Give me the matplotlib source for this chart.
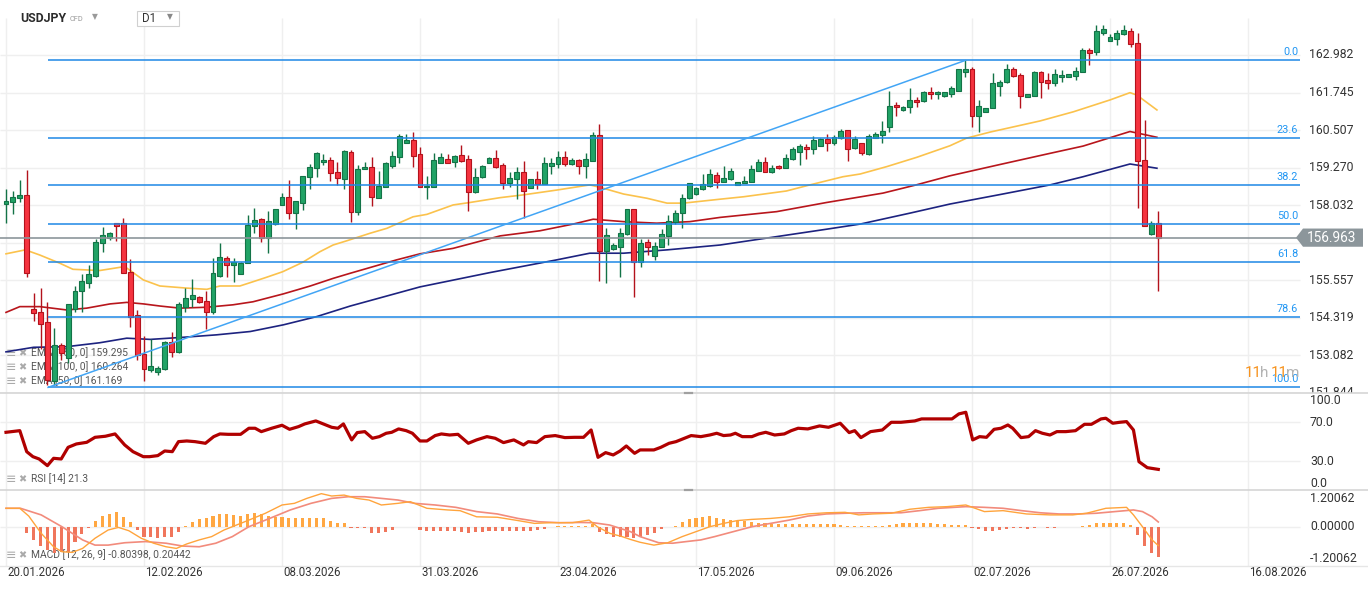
import matplotlib.pyplot as plt
from matplotlib.transforms import blended_transform_factory as blend
from matplotlib.patches import Polygon, Rectangle
from matplotlib.lines import Line2D

plt.rcParams['font.family'] = ['Roboto', 'DejaVu Sans']

# ---- daily candles ----
opens = [158.06, 158.13, 158.26, 158.37, 154.60, 154.51, 154.19, 152.24, 153.43, 152.99,
         154.60, 155.22, 155.48, 155.70, 156.78, 156.96, 157.44, 157.44, 155.82, 154.42,
         153.13, 152.60, 152.53, 152.62, 153.52, 153.21, 154.69, 154.93, 155.00, 154.89,
         154.50, 155.71, 156.28, 156.05, 155.77, 156.12, 157.33, 157.57, 156.96, 157.41,
         158.04, 158.29, 157.77, 158.12, 158.95, 159.25, 159.45, 159.52, 159.12, 158.90,
         159.78, 157.82, 159.22, 159.28, 158.28, 158.64, 159.33, 159.61, 160.09, 160.18,
         159.72, 158.62, 158.64, 159.43, 159.55, 159.47, 159.69, 159.55, 158.48, 158.95,
         159.43, 159.58, 159.36, 158.75, 158.89, 159.12, 158.59, 158.89, 158.72, 159.33,
         159.38, 159.61, 159.38, 159.52, 159.33, 159.50, 160.35, 156.53, 156.58, 156.67,
         157.07, 157.90, 156.17, 156.83, 156.37, 156.67, 157.03, 157.49, 157.79, 158.28,
         158.39, 158.56, 158.67, 159.03, 158.80, 158.88, 158.70, 158.75, 158.81, 159.17,
         159.45, 159.12, 159.33, 159.27, 159.55, 159.80, 159.96, 159.87, 159.99, 160.21,
         160.07, 160.24, 160.51, 159.91, 160.09, 159.72, 160.24, 160.35, 160.60, 161.34,
         161.17, 161.26, 161.50, 161.47, 161.75, 161.69, 161.63, 161.70, 161.80, 162.43,
         162.52, 160.98, 161.11, 161.23, 161.97, 162.08, 162.52, 162.32, 161.59, 161.64,
         162.41, 162.16, 162.07, 162.24, 162.27, 162.30, 162.41, 163.15, 163.07, 163.70,
         163.45, 163.51, 163.66, 163.77, 163.39, 159.52, 157.07, 157.44]
highs = [158.56, 158.50, 158.86, 159.19, 155.15, 155.29, 154.84, 153.98, 153.48, 154.78,
         155.37, 155.77, 156.06, 156.91, 157.30, 157.15, 157.46, 157.62, 156.25, 154.58,
         153.72, 153.61, 152.72, 153.57, 153.87, 154.85, 155.29, 155.59, 155.05, 155.22,
         156.28, 156.78, 156.36, 156.28, 156.15, 157.71, 157.93, 157.60, 157.84, 157.90,
         158.45, 158.86, 158.17, 158.99, 159.39, 159.80, 159.72, 159.61, 159.45, 159.85,
         159.85, 159.36, 159.47, 159.61, 159.16, 159.45, 159.82, 160.38, 160.38, 160.44,
         159.96, 158.99, 159.74, 159.76, 159.72, 159.69, 160.02, 159.69, 159.25, 159.36,
         159.63, 159.85, 159.41, 159.14, 159.30, 159.49, 158.89, 159.16, 159.63, 159.58,
         159.82, 159.82, 159.58, 159.55, 159.76, 160.46, 160.71, 157.29, 156.78, 157.29,
         157.90, 157.90, 156.91, 156.91, 156.81, 157.24, 157.71, 157.86, 158.40, 158.75,
         158.62, 159.06, 159.22, 159.14, 159.33, 159.25, 158.81, 158.99, 159.36, 159.56,
         159.61, 159.36, 159.36, 159.71, 159.96, 160.05, 160.04, 160.31, 160.26, 160.37,
         160.34, 160.53, 160.51, 160.31, 160.09, 160.38, 160.46, 160.79, 161.81, 161.44,
         161.30, 161.89, 161.61, 161.81, 161.92, 161.78, 161.75, 161.96, 162.52, 162.82,
         162.58, 161.50, 161.25, 162.38, 162.16, 162.68, 162.60, 162.38, 161.69, 162.47,
         162.45, 162.38, 162.52, 162.49, 162.35, 162.58, 163.20, 163.20, 163.97, 163.97,
         163.67, 163.81, 163.97, 163.88, 163.70, 160.84, 157.51, 157.85]
lows = [157.46, 157.73, 158.15, 155.66, 154.20, 153.31, 152.10, 152.11, 152.93, 152.82,
        154.52, 154.52, 155.29, 155.68, 156.50, 156.90, 156.86, 155.79, 154.03, 152.93,
        152.25, 152.55, 152.44, 152.60, 153.04, 153.17, 154.52, 154.69, 154.80, 153.95,
        154.45, 155.68, 155.68, 155.49, 155.75, 156.12, 157.13, 156.83, 156.45, 157.38,
        158.04, 157.58, 157.25, 157.87, 158.56, 158.97, 159.36, 158.84, 158.70, 158.56,
        157.49, 157.71, 159.22, 157.99, 158.26, 158.62, 159.27, 159.43, 160.07, 159.30,
        158.62, 158.24, 158.62, 159.41, 159.41, 159.30, 159.47, 157.85, 158.45, 158.92,
        159.41, 159.27, 158.56, 158.62, 158.24, 157.60, 158.59, 158.56, 158.72, 159.06,
        159.27, 159.33, 159.36, 159.06, 158.94, 159.50, 155.55, 155.48, 156.55, 155.68,
        157.05, 155.02, 156.01, 156.39, 156.21, 156.67, 156.72, 157.42, 157.27, 158.24,
        158.37, 158.53, 158.64, 158.59, 158.78, 158.86, 158.70, 158.75, 158.81, 159.17,
        159.11, 159.08, 159.23, 159.27, 159.52, 159.36, 159.56, 159.71, 159.97, 159.83,
        160.03, 160.20, 159.50, 159.88, 159.70, 159.70, 160.24, 160.09, 160.46, 160.98,
        161.15, 161.06, 161.26, 161.43, 161.52, 161.52, 161.60, 161.60, 161.80, 162.27,
        160.62, 160.46, 161.11, 161.23, 161.64, 162.05, 162.24, 161.25, 161.59, 161.64,
        161.58, 161.86, 161.96, 162.10, 162.27, 162.16, 162.41, 162.65, 162.98, 163.64,
        163.45, 163.31, 163.64, 163.26, 157.95, 157.36, 157.05, 155.21]
closes = [158.17, 158.30, 158.37, 155.79, 154.47, 154.13, 152.27, 153.43, 153.17, 154.78,
          155.21, 155.54, 155.76, 156.81, 157.05, 157.11, 157.35, 155.79, 154.36, 153.10,
          152.62, 152.74, 152.66, 153.52, 153.21, 154.78, 154.96, 155.06, 154.85, 154.52,
          155.79, 156.32, 156.05, 156.17, 156.12, 157.38, 157.55, 156.96, 157.51, 157.90,
          158.29, 157.77, 158.17, 158.99, 159.28, 159.74, 159.52, 159.08, 158.92, 159.82,
          157.82, 159.22, 159.28, 158.29, 158.68, 159.41, 159.65, 160.31, 160.18, 159.66,
          158.64, 158.68, 159.52, 159.61, 159.43, 159.66, 159.50, 158.48, 158.95, 159.33,
          159.58, 159.30, 158.75, 158.92, 159.12, 158.51, 158.89, 158.72, 159.41, 159.43,
          159.61, 159.38, 159.52, 159.33, 159.55, 160.35, 156.53, 157.05, 156.72, 157.11,
          157.90, 156.17, 156.80, 156.67, 156.70, 157.07, 157.52, 157.77, 158.26, 158.75,
          158.59, 158.72, 159.06, 158.78, 158.93, 159.16, 158.81, 158.83, 159.22, 159.45,
          159.14, 159.27, 159.25, 159.58, 159.88, 159.98, 159.87, 160.18, 160.21, 160.07,
          160.27, 160.48, 159.87, 160.21, 159.74, 160.31, 160.37, 160.48, 161.30, 161.26,
          161.28, 161.50, 161.43, 161.75, 161.69, 161.75, 161.75, 161.89, 162.52, 162.52,
          160.98, 161.30, 161.25, 162.05, 162.10, 162.52, 162.30, 161.64, 161.69, 162.41,
          162.10, 162.05, 162.35, 162.32, 162.35, 162.46, 163.15, 163.04, 163.77, 163.84,
          163.56, 163.70, 163.81, 163.33, 159.49, 157.36, 157.44, 156.963]

# ---- moving averages (bar index, value) ----
ema50_x = [0, 2.8, 4.9, 7.8, 9.7, 13.6, 17.2, 19.9, 22.3, 26.2, 29.1, 31, 33.9, 35.8, 37.8,
           40.1, 43, 45.5, 47.4, 49.4, 52.8, 55.2, 59, 61, 64.8, 67.2, 71.6, 74.9, 79.8,
           84.6, 86.1, 89.5, 92.9, 95.8, 98.2, 103.5, 106.9, 113.1, 116.5, 121.3, 123.8,
           127.6, 132, 136.8, 139.2, 142.6, 149.9, 154.7, 160, 162.9, 163.9, 166.8]
ema50 = [156.43, 156.56, 156.39, 156.12, 155.92, 155.88, 156.01, 155.57, 155.37, 155.30,
         155.26, 155.37, 155.37, 155.51, 155.66, 155.84, 156.15, 156.50, 156.72, 156.86,
         157.11, 157.27, 157.65, 157.73, 158.04, 158.12, 158.28, 158.37, 158.53, 158.70,
         158.62, 158.40, 158.26, 158.10, 158.10, 158.23, 158.31, 158.50, 158.70, 158.97,
         159.06, 159.30, 159.61, 159.99, 160.24, 160.44, 160.81, 161.11, 161.50, 161.74,
         161.66, 161.17]
ema100_x = [0, 2, 4.9, 8.8, 11.7, 15.1, 17.5, 19.9, 22.3, 25.2, 29.1, 32.9, 35.8, 40.2, 44.1,
            47.4, 49.9, 56.6, 60, 64.8, 71.6, 77.4, 82.2, 85.1, 89.5, 94.3, 99.1, 103.5,
            111.7, 118.9, 127.1, 131.9, 136.8, 144, 151.3, 156.1, 162.9, 166.8]
ema100 = [154.50, 154.69, 154.69, 154.58, 154.64, 154.78, 154.83, 154.78, 154.71, 154.64,
          154.67, 154.75, 154.85, 155.11, 155.37, 155.62, 155.79, 156.23, 156.43, 156.61,
          157.02, 157.19, 157.41, 157.57, 157.49, 157.44, 157.49, 157.63, 157.82, 158.12,
          158.43, 158.70, 159.00, 159.37, 159.74, 159.98, 160.46, 160.27]
ema150_x = [0, 4, 8.8, 13.6, 17.5, 20.9, 25.7, 30.5, 35.4, 40.2, 45, 49.9, 60, 70.1, 79.8,
            84.6, 89.5, 95.8, 103.5, 118.9, 123.8, 131, 136.8, 144, 151.3, 156.1, 162.9, 166.8]
ema150 = [153.20, 153.35, 153.37, 153.50, 153.65, 153.61, 153.68, 153.76, 153.87, 154.09,
          154.36, 154.71, 155.34, 155.81, 156.23, 156.45, 156.45, 156.56, 156.72, 157.24,
          157.41, 157.77, 158.07, 158.38, 158.70, 158.97, 159.39, 159.25]

# ---- RSI (14) ----
rsi_x = [0.0, 2.0, 3.0, 3.9, 4.8, 6.0, 6.9, 8.0, 9.0, 10.2, 11.7, 12.9, 14.4, 15.8, 17.2,
         18.4, 19.9, 20.8, 22.0, 23.0, 24.1, 25.0, 26.2, 27.4, 28.9, 30.1, 31.0, 32.2, 34.0,
         35.2, 36.1, 37.0, 38.5, 40.0, 41.1, 42.4, 43.3, 44.9, 46.0, 47.2, 48.1, 48.9, 50.1,
         50.9, 52.0, 53.1, 54.1, 55.1, 55.9, 56.9, 58.0, 58.9, 60.0, 61.0, 62.2, 63.1, 64.3,
         65.5, 67.0, 68.2, 69.7, 70.9, 72.1, 73.6, 75.0, 75.7, 76.9, 78.1, 79.6, 81.0, 82.4,
         83.7, 84.8, 85.8, 86.9, 88.0, 89.0, 89.9, 91.1,
         91.9, 93.9, 94.9, 96.1, 97.1, 98.3, 99.3, 100.7, 102.0, 103.0, 104.0, 105.0, 105.7,
         106.7, 108.1, 109.1, 110.1, 111.4, 112.8, 113.8, 114.8, 116.2, 117.9, 119.2, 120.9,
         122.2, 123.0, 123.9, 125.3, 127.0, 128.3, 129.7, 131.7, 132.7, 135.1, 137.1, 138.1,
         139.1, 140.1, 141.1, 142.1, 143.2, 144.2, 145.2, 145.9, 147.1, 148.2, 149.2, 150.2,
         151.3, 152.3, 153.6, 155.0, 156.3, 157.3, 158.7, 159.4, 160.4, 161.4, 162.4, 163.4,
         164.2, 165.4, 167.0]
rsi = [59.8, 61.5, 39.7, 34.5, 32.1, 25.2, 32.8, 32.1, 44.2, 47.7, 49.4, 54.6, 55.7, 58.1,
       46.7, 39.7, 34.5, 34.5, 35.6, 40.4, 39.7, 50.1, 50.8, 50.1, 48.4, 55.3, 58.1, 57.7,
       57.7, 64.0, 64.0, 60.5, 64.0, 67.1, 62.9, 65.7, 68.5, 71.6, 68.5, 65.0, 64.0, 68.5,
       51.9, 59.5, 60.5, 53.6, 55.3, 58.8, 59.8, 63.3, 61.5, 58.8, 50.8, 50.8, 56.4, 58.1,
       57.0, 57.7, 48.4, 51.9, 55.3, 53.6, 49.1, 51.9, 46.7, 50.1, 49.1, 55.3, 56.4, 54.3,
       54.6, 54.6, 62.2, 33.8, 38.7, 36.3, 40.4, 45.6, 38.0,
       41.5, 41.5, 44.2, 48.4, 50.1, 53.6, 56.4, 55.3, 57.0, 58.8, 56.4, 57.0, 58.8, 55.3,
       55.3, 58.1, 59.8, 57.0, 58.1, 61.5, 64.0, 63.3, 66.4, 65.0, 69.2, 59.5, 61.5, 54.3,
       60.5, 62.2, 70.2, 70.2, 71.6, 73.7, 73.7, 73.7, 78.9, 80.6, 51.9, 55.3, 54.6, 62.9,
       64.0, 67.4, 64.0, 54.3, 55.3, 61.5, 58.8, 57.0, 60.5, 60.5, 61.5, 68.1, 68.1, 73.7,
       74.4, 69.2, 70.2, 70.9, 62.2, 29.3, 23.1, 21.3]

# ---- MACD (12, 26, 9) ----
macd_x = [0, 2.0, 3.3, 5.1, 6.9, 8.1, 9.6, 11.1, 12.9, 14.8, 16.3, 17.8, 19.6, 21.4, 23.2,
          24.7, 26.2, 28.0, 29.8, 31.6, 33.4, 35.2, 37.6, 40.0, 41.8, 43.6, 45.7, 47.2, 49.0,
          50.8, 52.6, 54.4, 56.8, 58.6, 61.0, 64.0, 65.8, 68.2, 71.2, 74.2, 76.6, 79.0, 82.1,
          84.5, 85.7, 87.5, 89.3, 90.5, 91.9, 93.9, 95.9, 98.0, 100.0, 102.0, 104.0, 106.0,
          108.1, 110.8, 113.5, 116.2, 118.9, 121.6, 123.6, 125.6, 128.3, 131.0, 133.7, 136.4,
          139.1, 141.8, 144.5, 147.9, 151.3, 154.6, 156.6, 159.4, 162.4, 163.4, 164.7, 166.1,
          167.0]
macd = [0.78, 0.78, 0.45, -0.28, -0.85, -1.06, -1.09, -0.92, -0.49, -0.14, -0.03, -0.17,
        -0.49, -0.70, -0.85, -0.92, -0.73, -0.56, -0.42, -0.14, 0.07, 0.28, 0.57, 0.92, 0.99,
        1.20, 1.40, 1.30, 1.34, 1.20, 1.13, 0.92, 0.99, 1.06, 0.78, 0.71, 0.68, 0.42, 0.40,
        0.26, 0.14, 0.17, 0.17, 0.28, 0.00, -0.28, -0.42, -0.54, -0.66, -0.78, -0.68, -0.42,
        -0.21, 0.00, 0.14, 0.26, 0.31, 0.35, 0.42, 0.54, 0.59, 0.61, 0.50, 0.54, 0.57, 0.74,
        0.82, 0.85, 0.92, 0.64, 0.68, 0.54, 0.50, 0.50, 0.57, 0.78, 0.82, 0.50, 0.00, -0.56,
        -0.80]
sig_x = [0, 2.1, 5.1, 8.1, 11.1, 12.9, 14.8, 17.2, 20.2, 23.2, 25.6, 28.0, 30.4, 32.8, 35.2,
         38.2, 41.2, 44.2, 47.2, 49.6, 52.0, 54.4, 56.8, 59.2, 62.2, 65.2, 68.2, 71.2, 74.2,
         77.2, 80.2, 83.3, 85.1, 87.5, 90.5, 91.9, 94.6, 96.6, 98.6, 100.7, 102.7, 105.4,
         108.1, 110.8, 113.5, 116.2, 118.9, 121.6, 124.3, 127.0, 129.7, 132.4, 135.1, 139.1,
         141.8, 144.5, 147.2, 149.9, 152.6, 155.3, 158.0, 160.7, 163.4, 164.7, 166.1, 167.0]
sig = [0.78, 0.78, 0.50, 0.00, -0.56, -0.78, -0.78, -0.68, -0.63, -0.70, -0.82, -0.85, -0.70,
       -0.42, 0.00, 0.35, 0.71, 0.99, 1.20, 1.27, 1.27, 1.20, 1.13, 0.99, 0.92, 0.82, 0.64,
       0.54, 0.35, 0.21, 0.17, 0.18, 0.17, 0.07, -0.21, -0.42, -0.68, -0.70, -0.63, -0.56,
       -0.42, -0.21, 0.00, 0.14, 0.28, 0.45, 0.54, 0.57, 0.59, 0.59, 0.59, 0.68, 0.78, 0.85,
       0.82, 0.78, 0.68, 0.59, 0.54, 0.54, 0.57, 0.64, 0.71, 0.64, 0.42, 0.20]
hist = [-0.02, -0.02, -0.02, -0.28, -0.56, -0.82, -0.99, -1.10, -1.09, -1.06,
        -0.63, -0.31, -0.07, 0.26, 0.45, 0.54, 0.62, 0.43, 0.19, -0.14,
        -0.42, -0.42, -0.49, -0.42, -0.42, -0.21, 0.03, 0.19, 0.31, 0.38,
        0.45, 0.54, 0.54, 0.50, 0.45, 0.54, 0.57, 0.54, 0.45, 0.43,
        0.43, 0.35, 0.35, 0.35, 0.35, 0.38, 0.35, 0.26, 0.14, 0.14,
        -0.07, -0.07, -0.07, -0.25, -0.28, -0.21, -0.14, -0.03, -0.02, -0.02,
        -0.14, -0.17, -0.17, -0.17, -0.17, -0.18, -0.21, -0.25, -0.21, -0.21,
        -0.18, -0.17, -0.17, -0.17, -0.18, -0.17, -0.17, -0.14, -0.11, -0.03,
        0.02, 0.03, 0.03, 0.03, 0.03, 0.10, -0.21, -0.31, -0.42, -0.45,
        -0.45, -0.49, -0.42, -0.36, -0.25, -0.11, -0.02, 0.02, 0.19, 0.33,
        0.38, 0.43, 0.47, 0.38, 0.31, 0.28, 0.26, 0.24, 0.21, 0.17,
        0.14, 0.11, 0.11, 0.11, 0.11, 0.11, 0.11, 0.11, 0.11, 0.10,
        0.10, 0.07, 0.03, 0.01, 0.02, 0.02, 0.02, 0.03, 0.07, 0.11,
        0.14, 0.17, 0.17, 0.17, 0.14, 0.11, 0.10, 0.07, 0.07, 0.07,
        -0.07, -0.11, -0.18, -0.17, -0.14, -0.11, -0.07, -0.07, -0.11, -0.07,
        -0.03, -0.04, -0.04, -0.03, -0.03, -0.03, 0.03, 0.07, 0.14, 0.14,
        0.14, 0.14, 0.14, 0.07, -0.35, -0.82, -1.13, -1.30]

price_ticks = [162.982, 161.745, 160.507, 159.270, 158.032, 156.794, 155.557, 154.319,
               153.082, 151.844]
date_labels = ['20.01.2026', '12.02.2026', '08.03.2026', '31.03.2026', '23.04.2026',
               '17.05.2026', '09.06.2026', '02.07.2026', '26.07.2026', '16.08.2026']
fib_levels = [0.0, 23.6, 38.2, 50.0, 61.8, 78.6, 100.0]
fib_high, fib_low = 162.80, 152.03
fib_start, fib_end = 6.1, 139
last_price = 156.963

# ---- layout (pixel based) ----
W, H = 1368, 589
STEP, X0 = 6.9, 6          # px per bar, px of first bar
fig = plt.figure(figsize=(W / 100, H / 100), dpi=100)


def bar_at(px):
    return (px - X0) / STEP


def panel(top, bottom):
    a = fig.add_axes([0, 1 - bottom / H, 1, (bottom - top) / H])
    a.set_xticks([])
    a.set_yticks([])
    for s in a.spines.values():
        s.set_visible(False)
    a.set_xlim(bar_at(0), bar_at(W))
    return a


ax = panel(0, 393)
ax_rsi = panel(393, 490)
ax_macd = panel(490, 566)
ax.set_ylim(151.844, 151.844 + 393 / 30.35)
ax_rsi.set_ylim(-0.1, 100.6)
ax_macd.set_ylim(-1.665, 1.555)

right = bar_at(1300)
grid_bars = list(range(0, 181, 20))
gcol = '#efefef'
ax.vlines(grid_bars, 151.844, 164.2, color=gcol, lw=1, zorder=0)
ax_rsi.vlines(grid_bars, -1, 101, color=gcol, lw=1, zorder=0)
ax_macd.vlines(grid_bars, -2, 2, color=gcol, lw=1, zorder=0)
ax.hlines(price_ticks, bar_at(0), right, color=gcol, lw=1, zorder=0)
ax_rsi.hlines([70, 30], bar_at(0), right, color=gcol, lw=1, zorder=0)
ax_macd.hlines([0], bar_at(0), right, color=gcol, lw=1, zorder=0)

# panel separators
ax_rsi.axhline(100.6, color='#d5d5d5', lw=1.2, clip_on=False)
ax_macd.axhline(1.555, color='#d5d5d5', lw=1.2, clip_on=False)
ax_macd.axhline(-1.665, color='#e6e6e6', lw=1, clip_on=False)
for yy in (393, 490):
    fig.add_artist(Line2D([685 / W, 692 / W], [1 - yy / H] * 2, color='#a0a0a0', lw=1.6))

# ---- candles ----
xs = list(range(len(closes)))
fills, edges, bottoms, heights = [], [], [], []
for o, c in zip(opens, closes):
    up = c >= o
    fills.append('#21a366' if up else '#f5333f')
    edges.append('#137347' if up else '#b3121c')
    bottoms.append(min(o, c))
    heights.append(max(abs(c - o), 0.06))

ax.vlines(xs, lows, highs, colors=edges, lw=1.0, zorder=3)
ax.bar(xs, heights, bottom=bottoms, width=0.72, color=fills, edgecolor=edges,
       linewidth=0.8, zorder=4)

ax.plot(ema50_x, ema50, color='#fbc24c', lw=1.2, zorder=2)
ax.plot(ema100_x, ema100, color='#b8161c', lw=1.2, zorder=2)
ax.plot(ema150_x, ema150, color='#1d2380', lw=1.2, zorder=2)

# fibonacci retracement
fib_prices = [fib_high - (fib_high - fib_low) * lv / 100 for lv in fib_levels]
ax.hlines(fib_prices, fib_start, right, color='#1e88e5', lw=1.1, zorder=5)
ax.plot([fib_start, fib_end], [fib_low, fib_high], color='#42a5f5', lw=1.1, zorder=5)
for lv, fp in zip(fib_levels, fib_prices):
    ax.text(bar_at(1298), fp + 0.1, f'{lv:.1f}', ha='right', va='bottom',
            fontsize=7.8, color='#2196f3', zorder=6)

# last price line and marker
ax.hlines(last_price, bar_at(0), right, color='#8c969b', lw=1.2, zorder=5)

ytr = blend(fig.transFigure, ax.transData)
for t in price_ticks:
    ax.text(1309 / W, t, f'{t:.3f}', transform=ytr, ha='left', va='center',
            fontsize=8.8, color='#333333', clip_on=True, zorder=5)

hb = 0.30
box = Polygon([(bar_at(1296), last_price), (bar_at(1303), last_price + hb),
               (bar_at(1363), last_price + hb), (bar_at(1363), last_price - hb),
               (bar_at(1303), last_price - hb)], closed=True,
              facecolor='#8c969b', edgecolor='none', zorder=7, clip_on=False)
ax.add_patch(box)
ax.text(bar_at(1332), last_price, f'{last_price:.3f}', ha='center', va='center',
        fontsize=9.8, color='white', zorder=8)

# countdown
for xp, s, col in [(1245, '11', '#f7931e'), (1260, 'h', '#b3b3b3'),
                   (1271, '11', '#f7931e'), (1286, 'm', '#b3b3b3')]:
    ax.text(xp / W, 1 - 373 / H, s, transform=fig.transFigure, ha='left', va='center',
            fontsize=11, color=col, zorder=7)

# indicator legends (under the candles)
def legend_row(a, y, label):
    a.text(6 / W, 1 - y / H, '≡', transform=fig.transFigure, ha='left', va='center',
           fontsize=9, color='#aaaaaa', zorder=1, family=['DejaVu Sans'])
    a.text(18 / W, 1 - y / H, '✖', transform=fig.transFigure, ha='left', va='center',
           fontsize=7, color='#aaaaaa', zorder=1, family=['DejaVu Sans'])
    a.text(31 / W, 1 - y / H, label, transform=fig.transFigure, ha='left', va='center',
           fontsize=7.4, color='#555555', zorder=1)


legend_row(ax, 353, 'EMA [150, 0] 159.295')
legend_row(ax, 367, 'EMA [100, 0] 160.264')
legend_row(ax, 381, 'EMA [50, 0] 161.169')

# ---- RSI panel ----
ax_rsi.plot(rsi_x, rsi, color='#b00000', lw=2.3, zorder=3)
rtr = blend(fig.transFigure, ax_rsi.transData)
for v, va in [(100, 'top'), (70, 'center'), (30, 'center'), (0, 'bottom')]:
    ax_rsi.text(1310 / W, v, f'{v:.1f}', transform=rtr, ha='left', va=va,
                fontsize=8.8, color='#333333')
legend_row(ax_rsi, 479, 'RSI [14] 21.3')

# ---- MACD panel ----
hcol = ['#ffa742' if h >= 0 else '#f0765c' for h in hist]
ax_macd.bar(xs, hist, width=0.45, color=hcol, zorder=2)
ax_macd.plot(sig_x, sig, color='#f28b7c', lw=1.2, zorder=3)
ax_macd.plot(macd_x, macd, color='#ffa43c', lw=1.0, zorder=4)
mtr = blend(fig.transFigure, ax_macd.transData)
for v, s in [(1.20062, '1.20062'), (0.0, '0.00000'), (-1.35, '-1.20062')]:
    ax_macd.text(1310 / W, v, s, transform=mtr, ha='left', va='center',
                 fontsize=8.8, color='#333333')
legend_row(ax_macd, 555, 'MACD [12, 26, 9] -0.80398, 0.20442')

# date labels
dtr = blend(ax_macd.transData, fig.transFigure)
for b, s in zip(grid_bars, date_labels):
    ax_macd.text(b + 0.15, 1 - 572 / H, s, transform=dtr, ha='left', va='center',
                 fontsize=8.3, color='#333333', clip_on=False)

# ---- header ----
fig.text(20 / W, 1 - 18.5 / H, 'USDJPY', fontsize=8.8, weight='bold', color='#2b2b2b',
         ha='left', va='center')
fig.text(70 / W, 1 - 19.5 / H, 'CFD', fontsize=5.3, color='#9a9a9a', ha='left', va='center')
fig.text(92 / W, 1 - 16.5 / H, '▼', fontsize=5.5, color='#9a9a9a', ha='left', va='center',
         family=['DejaVu Sans'])
fig.add_artist(Rectangle((137 / W, 1 - 25.5 / H), 42 / W, 14.5 / H, transform=fig.transFigure,
                         facecolor='white', edgecolor='#d0d0d0', lw=0.8))
fig.text(142 / W, 1 - 18.5 / H, 'D1', fontsize=8.3, color='#333333', ha='left', va='center')
fig.text(167 / W, 1 - 17 / H, '▼', fontsize=5.5, color='#888888', ha='left', va='center',
         family=['DejaVu Sans'])

fig.savefig('out.png', dpi=100)
